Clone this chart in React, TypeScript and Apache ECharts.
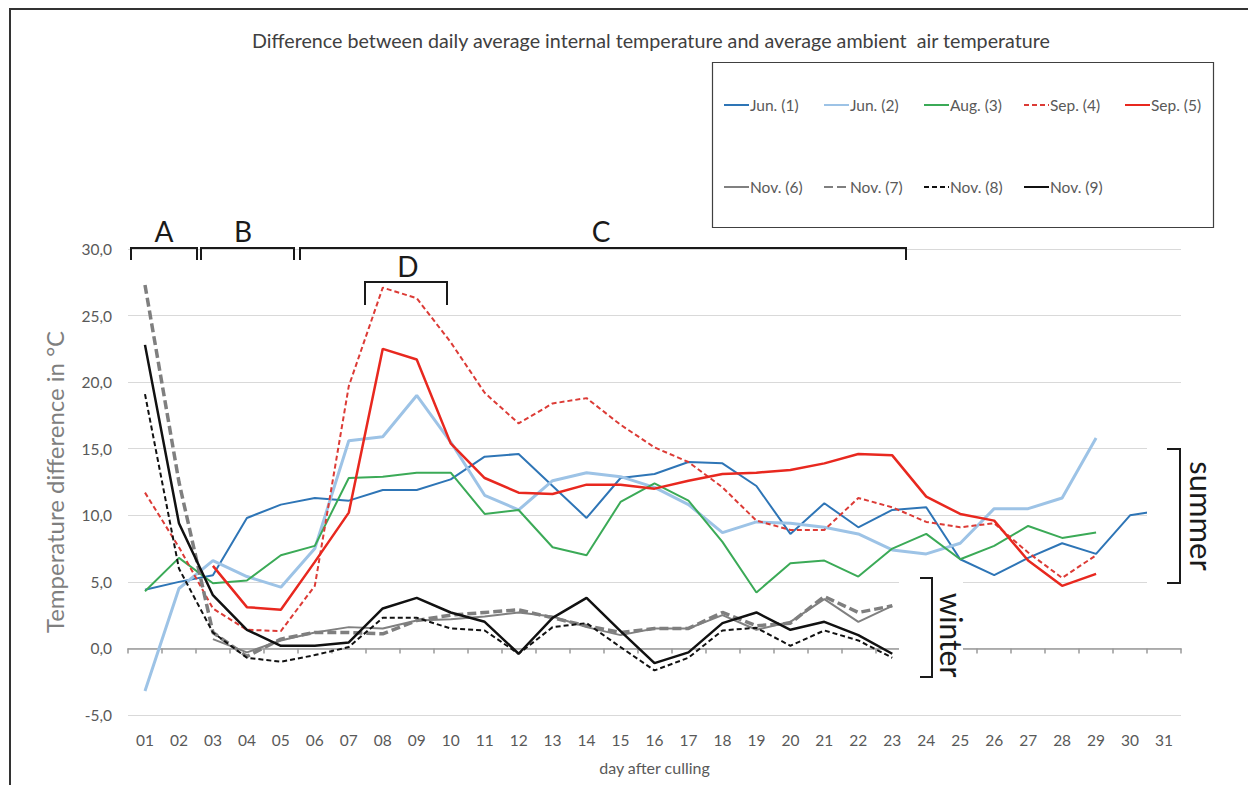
import React, { useEffect, useRef } from "react";
import * as echarts from "echarts";

const days = ["01","02","03","04","05","06","07","08","09","10","11","12","13","14","15","16","17","18","19","20","21","22","23","24","25","26","27","28","29","30","31"];
const yTicks = { min: -5, max: 30, interval: 5 };

const jun1 = [4.4, 5.0, 5.5, 9.8, 10.8, 11.3, 11.1, 11.9, 11.9, 12.7, 14.4, 14.6, 12.2, 9.8, 12.8, 13.1, 14.0, 13.9, 12.2, 8.6, 10.9, 9.1, 10.4, 10.6, 6.7, 5.5, 6.8, 7.9, 7.1, 10.0, 10.4];
const jun2 = [-3.2, 4.5, 6.6, 5.4, 4.6, 7.5, 15.6, 15.9, 19.0, 15.5, 11.5, 10.4, 12.6, 13.2, 12.9, 12.1, 10.8, 8.7, 9.5, 9.4, 9.1, 8.6, 7.4, 7.1, 7.9, 10.5, 10.5, 11.3, 15.8];
const aug3 = [4.3, 6.8, 4.9, 5.1, 7.0, 7.7, 12.8, 12.9, 13.2, 13.2, 10.1, 10.4, 7.6, 7.0, 11.0, 12.4, 11.1, 8.0, 4.2, 6.4, 6.6, 5.4, 7.5, 8.6, 6.7, 7.7, 9.2, 8.3, 8.7];
const sep4 = [11.7, 7.6, 3.0, 1.4, 1.3, 4.7, 19.7, 27.1, 26.3, 23.0, 19.2, 16.9, 18.4, 18.8, 16.8, 15.1, 14.0, 12.1, 9.6, 8.9, 8.9, 11.3, 10.6, 9.5, 9.1, 9.4, 7.2, 5.3, 7.0];
const sep5 = [null, null, 6.2, 3.1, 2.9, 6.5, 10.2, 22.5, 21.7, 15.4, 12.8, 11.7, 11.6, 12.3, 12.3, 12.0, 12.6, 13.1, 13.2, 13.4, 13.9, 14.6, 14.5, 11.4, 10.1, 9.6, 6.6, 4.7, 5.6];
const nov6 = [null, null, 0.7, -0.3, 0.6, 1.2, 1.6, 1.5, 2.1, 2.2, 2.4, 2.7, 2.4, 1.6, 1.0, 1.5, 1.5, 2.5, 1.4, 2.0, 3.7, 2.0, 3.2];
const nov7 = [27.3, 12.5, 1.2, -0.6, 0.7, 1.2, 1.2, 1.1, 2.1, 2.5, 2.7, 2.9, 2.3, 1.7, 1.2, 1.5, 1.5, 2.7, 1.7, 1.9, 3.9, 2.7, 3.2];
const nov8 = [19.1, 6.0, 1.2, -0.7, -1.0, -0.5, 0.1, 2.3, 2.3, 1.5, 1.35, -0.4, 1.6, 1.9, 0.1, -1.65, -0.7, 1.35, 1.55, 0.2, 1.35, 0.6, -0.7];
const nov9 = [22.8, 9.4, 4.0, 1.4, 0.2, 0.2, 0.45, 3.0, 3.8, 2.7, 2.0, -0.4, 2.3, 3.8, 1.3, -1.1, -0.3, 1.9, 2.7, 1.4, 2.0, 1.0, -0.4];

const seriesNames = ["Jun. (1)", "Jun. (2)", "Aug. (3)", "Sep. (4)", "Sep. (5)", "Nov. (6)", "Nov. (7)", "Nov. (8)", "Nov. (9)"];
const seriesData = [jun1, jun2, aug3, sep4, sep5, nov6, nov7, nov8, nov9];

const titleText = "Difference between daily average internal temperature and average ambient  air temperature";
const FONT = "Lato, 'Open Sans', sans-serif";

export default function App() {
  const ref = useRef<HTMLDivElement>(null);
  useEffect(() => {
    if (!ref.current) return;
    const chart = echarts.init(ref.current, null, { renderer: "svg" });
    const styles = [
      { color: "#2E75B6", width: 2, type: "solid" },
      { color: "#9DC3E6", width: 3, type: "solid" },
      { color: "#3BAA57", width: 2, type: "solid" },
      { color: "#DC3B36", width: 2, type: [5, 3] },
      { color: "#E8281F", width: 2.5, type: "solid" },
      { color: "#808080", width: 2, type: "solid" },
      { color: "#7F7F7F", width: 3.5, type: [9, 4] },
      { color: "#111111", width: 2, type: [5, 3] },
      { color: "#111111", width: 2.5, type: "solid" },
    ];
    const legendLefts = [723, 823, 923, 1023, 1124, 723, 823, 923, 1023];
    const legendTops = [97, 97, 97, 97, 97, 179, 179, 179, 179];
    const legends = seriesNames.map((n, i) => ({
      data: [n],
      left: legendLefts[i],
      top: legendTops[i],
      padding: 0,
      itemWidth: 25,
      itemHeight: 14,
      itemStyle: { opacity: 0 },
      textStyle: { fontSize: 15.5, color: "#595959", fontFamily: FONT, padding: [0, 0, 0, -4] },
    }));
    const series = seriesNames.map((n, i) => ({
      name: n,
      type: "line",
      data: seriesData[i],
      symbol: "none",
      showSymbol: false,
      color: styles[i].color,
      lineStyle: { color: styles[i].color, width: styles[i].width, type: styles[i].type },
      z: 3 + i,
    }));
    const bracket = (pts: number[][]) => ({
      type: "polyline",
      shape: { points: pts },
      style: { stroke: "#1a1a1a", lineWidth: 2, fill: null },
      z: 100,
    });
    const label = (text: string, x: number, y: number, size: number, rotation = 0) => ({
      type: "text",
      x, y, rotation,
      style: { text, fill: "#1a1a1a", fontSize: size, fontFamily: FONT, align: "center", verticalAlign: "middle" },
      z: 100,
    });
    chart.setOption({
      animation: false,
      backgroundColor: "#ffffff",
      title: {
        text: titleText,
        left: 252,
        top: 30,
        padding: 0,
        textStyle: { fontSize: 19.7, fontWeight: "normal", color: "#404040", fontFamily: FONT },
      },
      legend: legends,
      grid: { left: 128, right: 67, top: 249, bottom: 70 },
      xAxis: {
        type: "category",
        data: days,
        boundaryGap: true,
        name: "day after culling",
        nameLocation: "middle",
        nameGap: 44,
        nameTextStyle: { fontSize: 16, color: "#595959", fontFamily: FONT },
        axisLine: { lineStyle: { color: "#9a9a9a", width: 1.5 } },
        axisTick: { show: true, length: 5, lineStyle: { color: "#9a9a9a", width: 1.5 } },
        axisLabel: { fontSize: 15.5, color: "#595959", fontFamily: FONT, margin: 17 },
      },
      yAxis: {
        type: "value",
        min: yTicks.min,
        max: yTicks.max,
        interval: yTicks.interval,
        name: "Temperature difference in °C",
        nameLocation: "middle",
        nameGap: 62,
        nameTextStyle: { fontSize: 24, color: "#7f7f7f", fontFamily: FONT },
        axisLine: { show: false },
        axisTick: { show: false },
        splitLine: { lineStyle: { color: "#d9d9d9", width: 1 } },
        axisLabel: {
          fontSize: 15.5, color: "#595959", fontFamily: FONT, margin: 16,
          formatter: (v: number) => v.toFixed(1).replace(".", ","),
        },
      },
      series,
      graphic: [
        { type: "rect", shape: { x: 10, y: 9, width: 1260, height: 800 }, style: { fill: "none", stroke: "#333333", lineWidth: 2 }, z: 0, silent: true },
        { type: "rect", shape: { x: 1147, y: 430, width: 80, height: 170 }, style: { fill: "#ffffff" }, z: 50 },
        { type: "rect", shape: { x: 899, y: 579, width: 64, height: 110 }, style: { fill: "#ffffff" }, z: 50 },
        { type: "rect", shape: { x: 712.5, y: 62.5, width: 501, height: 165 }, style: { fill: "none", stroke: "#404040", lineWidth: 1.2 }, z: 50 },
        bracket([[131, 260], [131, 248], [197, 248], [197, 260]]),
        bracket([[201, 260], [201, 248], [294, 248], [294, 260]]),
        bracket([[300, 260], [300, 248], [906, 248], [906, 260]]),
        bracket([[365, 305], [365, 282], [447, 282], [447, 305]]),
        bracket([[1167, 449], [1180, 449], [1180, 583], [1167, 583]]),
        bracket([[920, 578], [932, 578], [932, 677], [920, 677]]),
        label("A", 164, 231, 28),
        label("B", 243, 231, 28),
        label("C", 601, 231, 28),
        label("D", 408, 266, 28),
        label("summer", 1202, 516, 31, -Math.PI / 2),
        label("winter", 952, 635, 30, -Math.PI / 2),
      ],
    });
    return () => chart.dispose();
  }, []);
  return (
    <div
      ref={ref}
      style={{ position: "absolute", left: 0, top: 0, width: 1248, height: 785 }}
    />
  );
}
